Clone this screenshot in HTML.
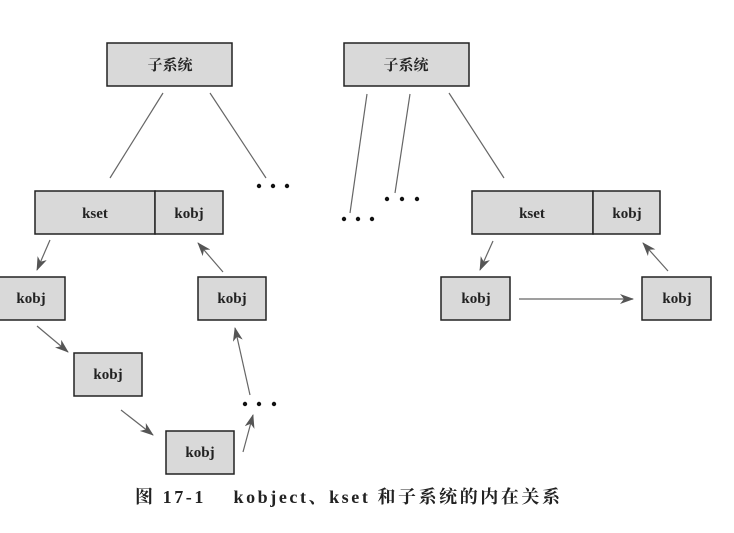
<!DOCTYPE html>
<html><head><meta charset="utf-8"><style>
body{margin:0;background:#fff;}
svg text{font-family:"Liberation Serif","Noto Serif CJK SC",serif;font-weight:bold;fill:#222;}
</style></head><body>
<svg width="734" height="528" viewBox="0 0 734 528" xmlns="http://www.w3.org/2000/svg">
<defs><marker id="a" markerWidth="14" markerHeight="10" refX="13" refY="5" orient="auto" markerUnits="userSpaceOnUse"><path d="M0,0 L14,5 L0,10 L4,5z" fill="#555"/></marker></defs>
<g fill="#d9d9d9" stroke="#222" stroke-width="1.5">
<rect x="107" y="43" width="125" height="43"/>
<rect x="344" y="43" width="125" height="43"/>
<rect x="35" y="191" width="120" height="43"/><rect x="155" y="191" width="68" height="43"/>
<rect x="472" y="191" width="121" height="43"/><rect x="593" y="191" width="67" height="43"/>
<rect x="-2" y="277" width="67" height="43"/>
<rect x="198" y="277" width="68" height="43"/>
<rect x="74" y="353" width="68" height="43"/>
<rect x="166" y="431" width="68" height="43"/>
<rect x="441" y="277" width="69" height="43"/>
<rect x="642" y="277" width="69" height="43"/>
</g>
<g stroke="#666" stroke-width="1.2" fill="none">
<line x1="163" y1="93" x2="110" y2="178"/><line x1="210" y1="93" x2="266" y2="178"/>
<line x1="367" y1="94" x2="350" y2="213"/><line x1="410" y1="94" x2="395" y2="193"/><line x1="449" y1="93" x2="504" y2="178"/>
</g>
<g stroke="#666" stroke-width="1.2" marker-end="url(#a)">
<line x1="50" y1="240" x2="37" y2="270"/>
<line x1="223" y1="272" x2="198" y2="243"/>
<line x1="37" y1="326" x2="68" y2="352"/>
<line x1="121" y1="410" x2="153" y2="435"/>
<line x1="243" y1="452" x2="253" y2="415"/>
<line x1="250" y1="395" x2="235" y2="328"/>
<line x1="493" y1="241" x2="480" y2="270"/>
<line x1="668" y1="271" x2="643" y2="243"/>
<line x1="519" y1="299" x2="633" y2="299"/>
</g>
<g fill="#111">
<circle cx="259" cy="186" r="2.2"/><circle cx="273" cy="186" r="2.2"/><circle cx="287" cy="186" r="2.2"/>
<circle cx="344" cy="219" r="2.2"/><circle cx="358" cy="219" r="2.2"/><circle cx="372" cy="219" r="2.2"/>
<circle cx="387" cy="199" r="2.2"/><circle cx="402" cy="199" r="2.2"/><circle cx="417" cy="199" r="2.2"/>
<circle cx="245" cy="404" r="2.2"/><circle cx="259" cy="404" r="2.2"/><circle cx="274" cy="404" r="2.2"/>
</g>
<g font-size="15" text-anchor="middle">
<text x="170" y="70">子系统</text><text x="406" y="70">子系统</text>
<text x="95" y="218">kset</text><text x="189" y="218">kobj</text>
<text x="532" y="218">kset</text><text x="627" y="218">kobj</text>
<text x="31" y="303">kobj</text><text x="232" y="303">kobj</text>
<text x="108" y="379">kobj</text><text x="200" y="457">kobj</text>
<text x="476" y="303">kobj</text><text x="677" y="303">kobj</text>
</g>
<text x="135" y="503" font-size="18" textLength="425" lengthAdjust="spacing">图 17-1　 kobject、kset 和子系统的内在关系</text>
</svg>
</body></html>
